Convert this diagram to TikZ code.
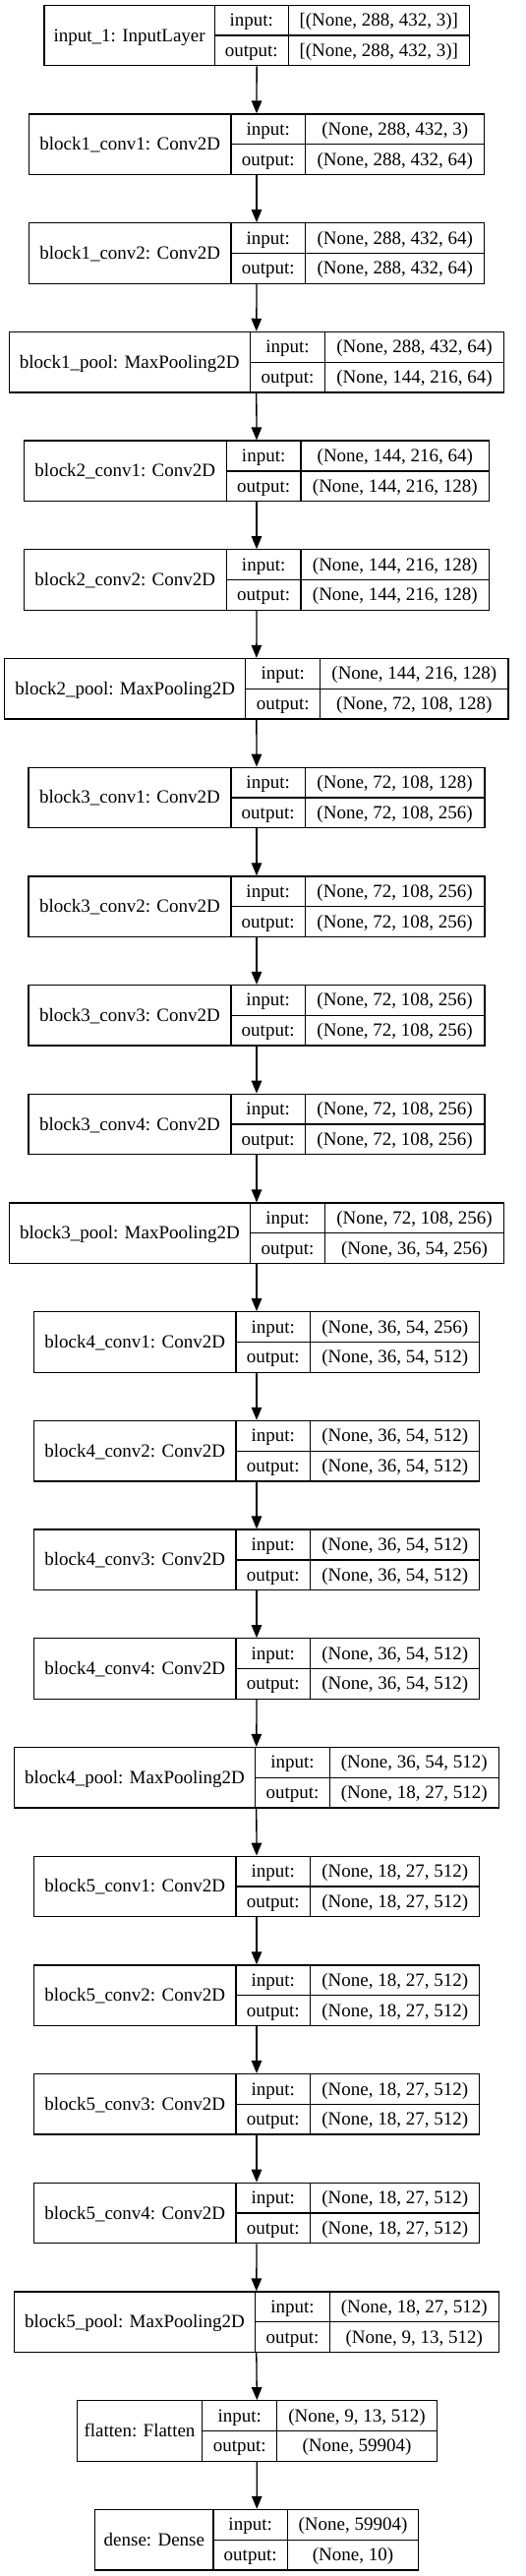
\documentclass[tikz,border=0pt]{standalone}
\usepackage{fontspec}
\setmainfont{Liberation Serif}
\usetikzlibrary{arrows.meta}

\tikzset{
  rec/.style={draw, line width=1.3pt, rectangle, inner sep=0pt, minimum height=61.5pt,
              text height=14pt, text depth=2pt},
  cell/.style={draw, line width=1.3pt, rectangle, inner sep=0pt, minimum height=30.75pt,
              text height=14pt, text depth=2pt},
  arr/.style={line width=1.3pt, -{Triangle[width=10.5pt,length=13pt]}}
}

% #1 row, #2..#5 x of the field edges, #6 layer, #7 input shape, #8 output shape
\newcommand{\layer}[8]{%
  \pgfmathsetmacro\laytop{5.3+110.7*#1}
  \node[rec, minimum width={#5-#2}] (lay#1) at ({(#2+#5)/2}, \laytop+30.75) {};
  \node[rec, minimum width={#3-#2}] (name#1) at ({(#2+#3)/2}, \laytop+30.75) {#6};
  \node[cell, minimum width={#4-#3}] (in#1) at ({(#3+#4)/2}, \laytop+15.375) {input:};
  \node[cell, minimum width={#4-#3}] (out#1) at ({(#3+#4)/2}, \laytop+46.125) {output:};
  \node[cell, minimum width={#5-#4}] (inshape#1) at ({(#4+#5)/2}, \laytop+15.375) {#7};
  \node[cell, minimum width={#5-#4}] (outshape#1) at ({(#4+#5)/2}, \laytop+46.125) {#8};
}

\begin{document}
\begin{tikzpicture}[x=1pt, y=-1pt, font=\fontsize{19}{23}\selectfont]
  \useasboundingbox (0,0) rectangle (535,2619);

  \layer{0}{45}{218.3}{293.3}{477.3}{input\_1: InputLayer}{[(None, 288, 432, 3)]}{[(None, 288, 432, 3)]}
  \layer{1}{29.3}{235}{310.7}{492.7}{block1\_conv1: Conv2D}{(None, 288, 432, 3)}{(None, 288, 432, 64)}
  \layer{2}{29.3}{235}{310.7}{492.7}{block1\_conv2: Conv2D}{(None, 288, 432, 64)}{(None, 288, 432, 64)}
  \layer{3}{9.3}{254.3}{330.7}{512.3}{block1\_pool: MaxPooling2D}{(None, 288, 432, 64)}{(None, 144, 216, 64)}
  \layer{4}{24.3}{230.3}{306}{497.7}{block2\_conv1: Conv2D}{(None, 144, 216, 64)}{(None, 144, 216, 128)}
  \layer{5}{24.3}{230.3}{306}{497.7}{block2\_conv2: Conv2D}{(None, 144, 216, 128)}{(None, 144, 216, 128)}
  \layer{6}{4.7}{249.7}{325.7}{517}{block2\_pool: MaxPooling2D}{(None, 144, 216, 128)}{(None, 72, 108, 128)}
  \layer{7}{29}{235}{310.3}{493}{block3\_conv1: Conv2D}{(None, 72, 108, 128)}{(None, 72, 108, 256)}
  \layer{8}{29}{235}{310.3}{493}{block3\_conv2: Conv2D}{(None, 72, 108, 256)}{(None, 72, 108, 256)}
  \layer{9}{29}{235}{310.3}{493}{block3\_conv3: Conv2D}{(None, 72, 108, 256)}{(None, 72, 108, 256)}
  \layer{10}{29}{235}{310.3}{493}{block3\_conv4: Conv2D}{(None, 72, 108, 256)}{(None, 72, 108, 256)}
  \layer{11}{9.3}{254.7}{330.3}{512.7}{block3\_pool: MaxPooling2D}{(None, 72, 108, 256)}{(None, 36, 54, 256)}
  \layer{12}{34.3}{240}{315.7}{487.7}{block4\_conv1: Conv2D}{(None, 36, 54, 256)}{(None, 36, 54, 512)}
  \layer{13}{34.3}{240}{315.7}{487.7}{block4\_conv2: Conv2D}{(None, 36, 54, 512)}{(None, 36, 54, 512)}
  \layer{14}{34.3}{240}{315.7}{487.7}{block4\_conv3: Conv2D}{(None, 36, 54, 512)}{(None, 36, 54, 512)}
  \layer{15}{34.3}{240}{315.7}{487.7}{block4\_conv4: Conv2D}{(None, 36, 54, 512)}{(None, 36, 54, 512)}
  \layer{16}{14.3}{259.7}{335.3}{507.3}{block4\_pool: MaxPooling2D}{(None, 36, 54, 512)}{(None, 18, 27, 512)}
  \layer{17}{34.3}{240}{315.7}{487.7}{block5\_conv1: Conv2D}{(None, 18, 27, 512)}{(None, 18, 27, 512)}
  \layer{18}{34.3}{240}{315.7}{487.7}{block5\_conv2: Conv2D}{(None, 18, 27, 512)}{(None, 18, 27, 512)}
  \layer{19}{34.3}{240}{315.7}{487.7}{block5\_conv3: Conv2D}{(None, 18, 27, 512)}{(None, 18, 27, 512)}
  \layer{20}{34.3}{240}{315.7}{487.7}{block5\_conv4: Conv2D}{(None, 18, 27, 512)}{(None, 18, 27, 512)}
  \layer{21}{14.3}{259.7}{335.3}{507.3}{block5\_pool: MaxPooling2D}{(None, 18, 27, 512)}{(None, 9, 13, 512)}
  \layer{22}{78.3}{205.7}{281.7}{444.3}{flatten: Flatten}{(None, 9, 13, 512)}{(None, 59904)}
  \layer{23}{96.7}{217}{292.3}{425.7}{dense: Dense}{(None, 59904)}{(None, 10)}

  \foreach \i [count=\j] in {0,...,22}
    \draw[arr] (lay\i.south) -- (lay\j.north);
\end{tikzpicture}
\end{document}
